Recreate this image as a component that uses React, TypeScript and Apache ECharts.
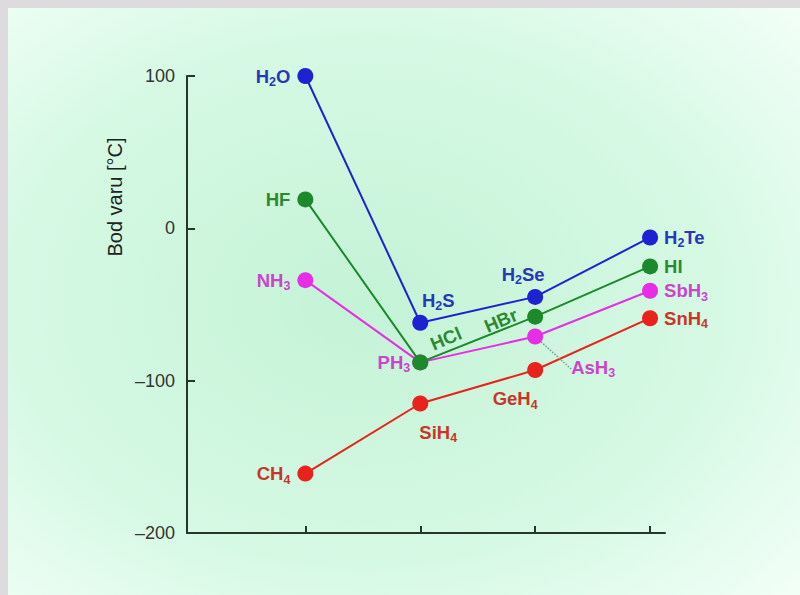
import React, { useEffect, useRef } from "react";
import * as echarts from "echarts";

const periods = [2, 3, 4, 5];
const group14 = [-161, -115, -93, -59];
const group15 = [-34, -88, -71, -41];
const group16 = [100, -62, -45, -6];
const group17 = [19, -88, -58, -25];
const labels14 = ["{n|CH}{s|4}", "{n|SiH}{s|4}", "{n|GeH}{s|4}", "{n|SnH}{s|4}"];
const labels15 = ["{n|NH}{s|3}", "{n|PH}{s|3}", "{n|AsH}{s|3}", "{n|SbH}{s|3}"];
const labels16 = ["{n|H}{s|2}{n|O}", "{n|H}{s|2}{n|S}", "{n|H}{s|2}{n|Se}", "{n|H}{s|2}{n|Te}"];
const labels17 = ["{n|HF}", "{n|HCl}", "{n|HBr}", "{n|HI}"];
const yTicks = [-200, -100, 0, 100];

const FONT = "'Liberation Sans', Arial, sans-serif";
const rich = {
  n: { fontSize: 18.5, fontWeight: "bold", fontFamily: FONT },
  s: { fontSize: 12.5, fontWeight: "bold", fontFamily: FONT, padding: [12, 0, 0, 0] },
};

type LabelCfg = { position: string; offset?: number[]; rotate?: number; distance?: number };

function buildSeries(
  name: string,
  values: number[],
  texts: string[],
  lineColor: string,
  labelColor: string,
  cfgs: LabelCfg[],
  extra: any = {}
) {
  return {
    name,
    type: "line",
    symbol: "circle",
    symbolSize: 16,
    itemStyle: { color: lineColor },
    lineStyle: { color: lineColor, width: 2 },
    data: values.map((v, i) => ({
      value: [periods[i], v],
      label: {
        show: true,
        formatter: texts[i],
        color: labelColor,
        rich,
        position: cfgs[i].position,
        offset: cfgs[i].offset || [0, 0],
        rotate: cfgs[i].rotate || 0,
        distance: cfgs[i].distance ?? 6,
      },
    })),
    ...extra,
  };
}

export default function App() {
  const ref = useRef<HTMLDivElement>(null);
  useEffect(() => {
    document.body.style.margin = "0";
    document.body.style.background = "#dddbdd";
    document.body.style.overflow = "hidden";
    const chart = echarts.init(ref.current!, null, { renderer: "svg" });
    const axisColor = "#26362a";
    const option: any = {
      animation: false,
      backgroundColor: {
        type: "radial",
        x: 0.45,
        y: 0.5,
        r: 0.75,
        colorStops: [
          { offset: 0, color: "#c4f3d6" },
          { offset: 0.6, color: "#d6f9e4" },
          { offset: 1, color: "#f3fff8" },
        ],
      },
      grid: { left: 179, top: 68, right: 135, bottom: 62 },
      xAxis: {
        type: "value",
        min: 0.97,
        max: 5.13,
        axisLine: { show: true, onZero: false, lineStyle: { color: axisColor, width: 2 } },
        axisTick: { show: true, inside: true, length: 7, customValues: periods, lineStyle: { color: axisColor, width: 2 } },
        axisLabel: { show: false },
        splitLine: { show: false },
      },
      yAxis: {
        type: "value",
        min: -200,
        max: 100,
        interval: 100,
        axisLine: { show: true, onZero: false, lineStyle: { color: axisColor, width: 2 } },
        axisTick: { show: true, inside: true, length: 8, customValues: yTicks, lineStyle: { color: axisColor, width: 2 } },
        axisLabel: {
          margin: 12,
          color: "#333",
          fontSize: 18,
          fontFamily: FONT,
          formatter: (v: number) => (v < 0 ? "\u2013" + Math.abs(v) : String(v)),
        },
        splitLine: { show: false },
      },
      graphic: [
        {
          type: "text",
          x: 107,
          y: 189,
          rotation: Math.PI / 2,
          style: {
            text: "Bod varu [°C]",
            fill: "#222",
            font: "20px 'Liberation Sans', Arial, sans-serif",
            align: "center",
            verticalAlign: "middle",
          },
        },
      ],
      series: [
        buildSeries("group14", group14, labels14, "#e8221c", "#c8362a", [
          { position: "left", distance: 7 },
          { position: "bottom", offset: [18, 2] },
          { position: "bottom", offset: [-20, 2] },
          { position: "right", distance: 6 },
        ]),
        buildSeries(
          "group15",
          group15,
          labels15,
          "#e62ee6",
          "#cc44cc",
          [
            { position: "left", distance: 7 },
            { position: "left", offset: [4, 11], distance: 2 },
            { position: "right", distance: 6 },
            { position: "right", distance: 6 },
          ],
          {
            labelLayout: (p: any) => (p.dataIndex === 2 ? { dx: 22, dy: 31 } : {}),
            labelLine: { show: false },
          }
        ),
        buildSeries("group17", group17, labels17, "#1c8a2a", "#2a8a30", [
          { position: "left", distance: 7 },
          { position: "inside", offset: [33, -12], rotate: 23 },
          { position: "inside", offset: [-33, -10], rotate: 23 },
          { position: "right", distance: 6 },
        ]),
        buildSeries("group16", group16, labels16, "#1e22d0", "#2838b8", [
          { position: "left", distance: 7 },
          { position: "top", offset: [18, 4] },
          { position: "top", offset: [-12, 4] },
          { position: "right", distance: 6 },
        ]),
      ],
    };
    option.series[1].data[2].labelLine = {
      show: true,
      lineStyle: { color: "#7a9a8a", type: "dotted", width: 1.5 },
    };
    chart.setOption(option);
    return () => chart.dispose();
  }, []);
  return (
    <div
      ref={ref}
      style={{ position: "absolute", left: 8, top: 8, width: 792, height: 587 }}
    />
  );
}
